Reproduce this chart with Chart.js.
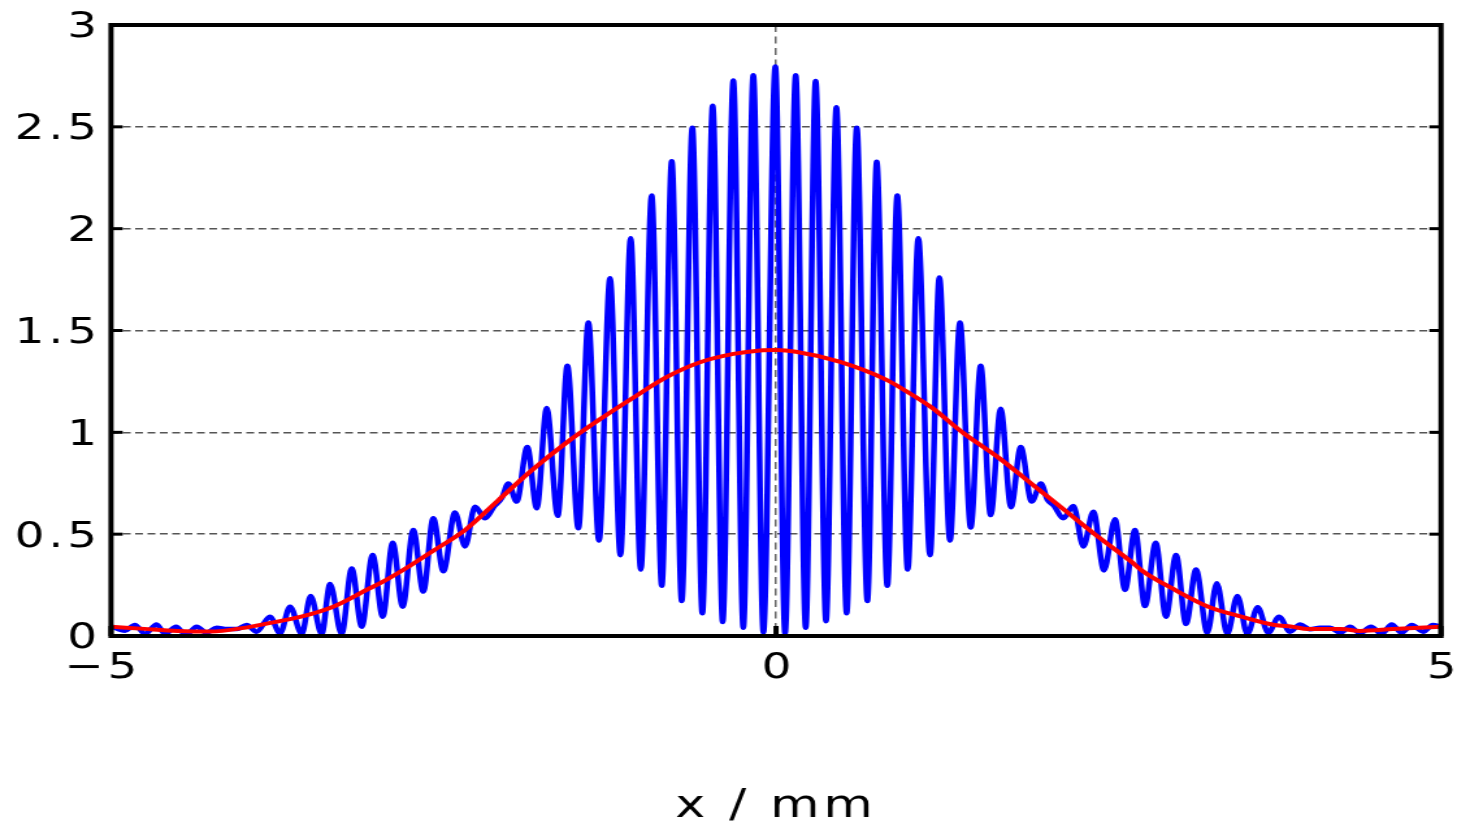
<!DOCTYPE html>
<html><head><meta charset="utf-8">
<script src="https://cdn.jsdelivr.net/npm/chart.js@4/dist/chart.umd.min.js"></script>
<style>html,body{margin:0;padding:0;background:#fff;overflow:hidden}
#c{display:block}</style></head>
<body><canvas id="c" width="1121" height="822" style="width:1457px;height:822px"></canvas>
<script>
// ---- data ----
const blueX = [-4.995,-4.895,-4.820,-4.744,-4.657,-4.594,-4.511,-4.436,-4.356,-4.281,-4.205,-4.130,-4.055,-3.980,-3.905,-3.805,-3.729,-3.654,-3.566,-3.499,-3.416,-3.353,-3.266,-3.190,-3.115,-3.033,-2.957,-2.882,-2.807,-2.727,-2.652,-2.577,-2.501,-2.414,-2.338,-2.263,-2.188,-2.120,-2.060,-2.013,-1.950,-1.870,-1.799,-1.724,-1.641,-1.569,-1.486,-1.411,-1.331,-1.248,-1.170,-1.093,-1.017,-0.935,-0.859,-0.784,-0.709,-0.629,-0.554,-0.476,-0.401,-0.321,-0.246,-0.171,-0.095,-0.005,0.068,0.148,0.223,0.298,0.376,0.454,0.531,0.607,0.687,0.757,0.837,0.912,0.990,1.070,1.158,1.228,1.308,1.383,1.464,1.539,1.614,1.689,1.767,1.840,1.922,1.992,2.040,2.090,2.160,2.236,2.311,2.386,2.466,2.549,2.624,2.699,2.774,2.855,2.932,3.008,3.083,3.158,3.243,3.314,3.393,3.469,3.544,3.622,3.701,3.782,3.865,3.940,4.015,4.090,4.165,4.241,4.316,4.391,4.474,4.554,4.629,4.704,4.780,4.866,4.938,4.995];
const blueY = [0.046,0.026,0.054,0.010,0.057,0.010,0.046,0.005,0.046,0.016,0.041,0.034,0.034,0.054,0.021,0.095,0.013,0.144,0.010,0.196,0.010,0.255,0.010,0.332,0.046,0.398,0.095,0.458,0.144,0.520,0.218,0.578,0.318,0.606,0.440,0.635,0.578,0.635,0.680,0.749,0.660,0.928,0.627,1.120,0.590,1.327,0.529,1.539,0.469,1.756,0.397,1.953,0.326,2.163,0.247,2.331,0.172,2.496,0.112,2.603,0.069,2.727,0.041,2.753,0.017,2.796,0.013,2.753,0.041,2.725,0.073,2.596,0.112,2.496,0.172,2.328,0.247,2.163,0.326,1.953,0.397,1.760,0.469,1.539,0.533,1.327,0.594,1.116,0.632,0.928,0.660,0.749,0.670,0.640,0.578,0.638,0.440,0.610,0.322,0.573,0.226,0.520,0.147,0.458,0.095,0.398,0.059,0.327,0.016,0.259,0.010,0.196,0.010,0.141,0.016,0.095,0.021,0.057,0.033,0.040,0.041,0.016,0.046,0.013,0.046,0.010,0.057,0.016,0.054,0.021,0.054,0.046];
const redX = [-5.0,-4.75,-4.5,-4.25,-4.0,-3.82,-3.57,-3.33,-3.08,-2.955,-2.755,-2.586,-2.336,-2.086,-1.835,-1.584,-1.333,-1.083,-0.82,-0.571,-0.32,-0.12,0,0.15,0.476,0.827,0.977,1.165,1.416,1.667,1.917,2.168,2.418,2.669,2.75,3.0,3.25,3.5,3.75,3.88,4.0,4.25,4.39,4.64,5.0];
const redY = [0.046,0.035,0.025,0.022,0.040,0.062,0.095,0.144,0.226,0.267,0.344,0.415,0.521,0.668,0.814,0.945,1.060,1.166,1.272,1.344,1.385,1.402,1.404,1.396,1.347,1.259,1.203,1.124,0.993,0.879,0.749,0.619,0.489,0.366,0.322,0.226,0.144,0.095,0.054,0.046,0.034,0.034,0.025,0.034,0.046];
const xTicks = [-5, 0, 5];
const xTickLabels = ['\u22125', '0', '5'];
const yTicks = [0, 0.5, 1, 1.5, 2, 2.5, 3];
const yTickLabels = ['0', '0.5', '1', '1.5', '2', '2.5', '3'];
const xTitle = 'x / mm';

// ---- layout (canvas is stretched horizontally to 1457 css px) ----
const CW = 1121, CH = 822, SX = 1457 / CW;
const PLOT_L = 111 / SX, PLOT_R = 1441 / SX, PLOT_T = 25, PLOT_B = 636;
const LS = '3px';
const FONT = 'DejaVu Sans';

const toPts = (xs, ys) => xs.map((x, i) => ({x: x, y: ys[i]}));

const frame = {
  id: 'frame',
  beforeDraw(chart) { chart.ctx.letterSpacing = LS; },
  afterDraw(chart) {
    const ctx = chart.ctx, a = chart.chartArea;
    ctx.save();
    ctx.letterSpacing = '0px';
    ctx.setLineDash([]);
    ctx.strokeStyle = '#000';
    const ys = chart.scales.y, xs = chart.scales.x;
    ctx.lineWidth = 3;
    yTicks.forEach(v => {
      const p = ys.getPixelForValue(v);
      ctx.beginPath(); ctx.moveTo(a.left, p); ctx.lineTo(a.left + 9, p); ctx.stroke();
      ctx.beginPath(); ctx.moveTo(a.right - 9, p); ctx.lineTo(a.right, p); ctx.stroke();
    });
    ctx.lineWidth = 4;
    xTicks.forEach(v => {
      const p = xs.getPixelForValue(v);
      ctx.beginPath(); ctx.moveTo(p, a.bottom); ctx.lineTo(p, a.bottom - 10); ctx.stroke();
    });
    ctx.lineWidth = 4;
    ctx.strokeRect(a.left, a.top, a.right - a.left, a.bottom - a.top);
    ctx.restore();
  }
};

new Chart(document.getElementById('c'), {
  type: 'line',
  data: {
    datasets: [
      {data: toPts(redX, redY), borderColor: '#ff0000', borderWidth: 4, pointRadius: 0, cubicInterpolationMode: 'monotone', fill: false, order: 0},
      {data: toPts(blueX, blueY), borderColor: '#0000ff', borderWidth: 4.5, pointRadius: 0, cubicInterpolationMode: 'monotone', fill: false, order: 1}
    ]
  },
  options: {
    responsive: false, animation: false, devicePixelRatio: 1,
    layout: {padding: {left: 0, right: CW - PLOT_R, top: PLOT_T, bottom: 0}},
    plugins: {legend: {display: false}, tooltip: {enabled: false}},
    scales: {
      x: {
        type: 'linear', min: -5, max: 5,
        afterBuildTicks: s => { s.ticks = xTicks.map(v => ({value: v})); },
        afterFit: s => { s.height = CH - PLOT_B; s.paddingLeft = 0; s.paddingRight = 0; },
        ticks: {
          autoSkip: false, maxRotation: 0, minRotation: 0, padding: 11, labelOffset: 2, color: '#000',
          font: {family: FONT, size: 36},
          callback: (v, i) => { const t = xTickLabels[i]; return t.charAt(0) === '\u2212' ? t + '\u2009\u200A' : t; }
        },
        grid: {drawTicks: false, lineWidth: 1.5, color: c => (c.tick && c.tick.value === 0) ? '#666' : 'rgba(0,0,0,0)'},
        border: {display: false, dash: [7, 4.5]},
        title: {display: true, text: xTitle, color: '#000', font: {family: FONT, size: 39, lineHeight: 1}, padding: {top: 0, bottom: -4}}
      },
      y: {
        type: 'linear', min: 0, max: 3,
        afterBuildTicks: s => { s.ticks = yTicks.map(v => ({value: v})); },
        afterFit: s => { s.width = PLOT_L; s.paddingTop = 0; s.paddingBottom = 0; },
        ticks: {
          autoSkip: false, padding: 7.8, labelOffset: 3, color: '#000',
          font: {family: FONT, size: 36},
          callback: (v, i) => yTickLabels[i]
        },
        grid: {drawTicks: false, lineWidth: 1.5, color: c => (c.tick && c.tick.value > 0 && c.tick.value < 3) ? '#555' : 'rgba(0,0,0,0)'},
        border: {display: false, dash: [6, 3.5]}
      }
    }
  },
  plugins: [frame]
});
</script>
</body></html>
